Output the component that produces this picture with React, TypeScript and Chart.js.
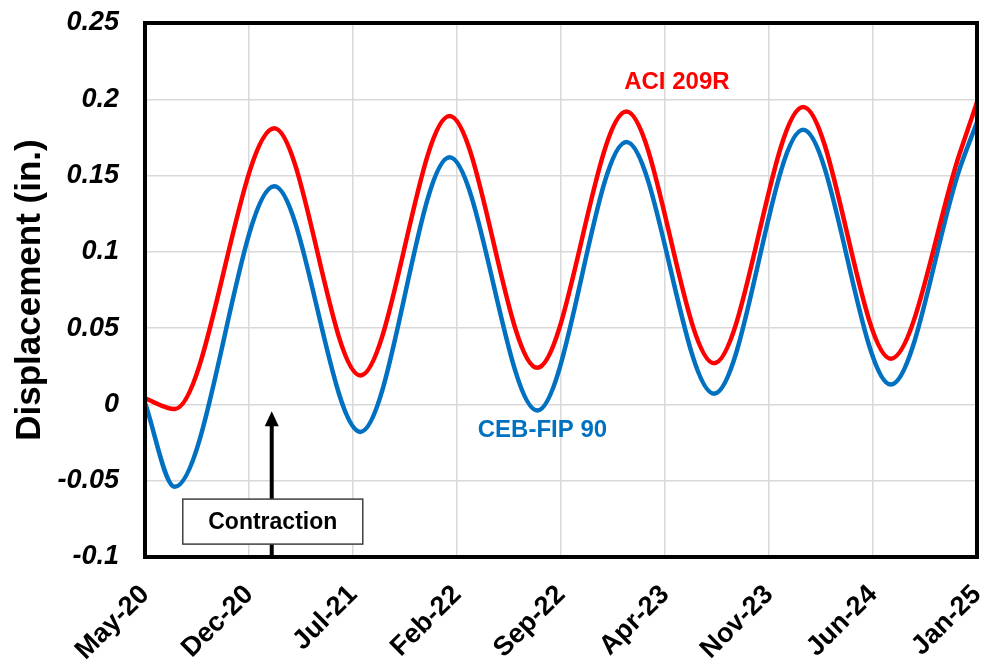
import React, { useEffect, useRef } from "react";
import { Chart, registerables } from "chart.js";

Chart.register(...registerables);

// Months elapsed since May-20
const months = [0, 2.0, 8.7, 14.5, 20.5, 26.4, 32.4, 38.3, 44.3, 50.2, 54.85, 56];
const aci209R = [0.004, -0.003, 0.181, 0.019, 0.189, 0.024, 0.192, 0.027, 0.195, 0.030, 0.165, 0.198];
const cebFip90 = [0.001, -0.054, 0.143, -0.018, 0.162, -0.004, 0.172, 0.007, 0.180, 0.013, 0.155, 0.185];

const xTickLabels = ["May-20", "Dec-20", "Jul-21", "Feb-22", "Sep-22", "Apr-23", "Nov-23", "Jun-24", "Jan-25"];
const yTickLabels = ["-0.1", "-0.05", "0", "0.05", "0.1", "0.15", "0.2", "0.25"];

const FONT = '"Liberation Sans", Arial, Helvetica, sans-serif';

const overlay = {
  id: "overlay",
  afterDraw(chart: any) {
    const { ctx, chartArea: a, scales } = chart;
    const x = scales.x;
    const y = scales.y;
    ctx.save();

    // Series labels
    ctx.textAlign = "center";
    ctx.textBaseline = "middle";
    ctx.font = `bold 24px ${FONT}`;
    ctx.fillStyle = "#FF0000";
    ctx.fillText("ACI 209R", x.getPixelForValue(35.8), y.getPixelForValue(0.2113));
    ctx.fillStyle = "#0070C0";
    ctx.fillText("CEB-FIP 90", x.getPixelForValue(26.75), y.getPixelForValue(-0.0169));

    // Contraction arrow
    const ax = x.getPixelForValue(8.53);
    const tipY = y.getPixelForValue(-0.0044);
    ctx.strokeStyle = "#000";
    ctx.fillStyle = "#000";
    ctx.lineWidth = 4;
    ctx.beginPath();
    ctx.moveTo(ax, a.bottom);
    ctx.lineTo(ax, tipY + 12);
    ctx.stroke();
    ctx.beginPath();
    ctx.moveTo(ax, tipY);
    ctx.lineTo(ax - 7, tipY + 15);
    ctx.lineTo(ax + 7, tipY + 15);
    ctx.closePath();
    ctx.fill();

    // Contraction box
    const bx = x.getPixelForValue(8.6);
    const by = y.getPixelForValue(-0.0768);
    const bw = 180;
    const bh = 45;
    ctx.fillStyle = "#fff";
    ctx.fillRect(bx - bw / 2, by - bh / 2, bw, bh);
    ctx.lineWidth = 1.5;
    ctx.strokeStyle = "#404040";
    ctx.strokeRect(bx - bw / 2, by - bh / 2, bw, bh);
    ctx.fillStyle = "#000";
    ctx.font = `bold 23px ${FONT}`;
    ctx.fillText("Contraction", bx, by + 1);

    // Plot frame
    ctx.strokeStyle = "#000";
    ctx.lineWidth = 4;
    ctx.strokeRect(a.left, a.top, a.right - a.left, a.bottom - a.top);
    ctx.restore();
  },
};

export default function App() {
  const ref = useRef<HTMLCanvasElement>(null);

  useEffect(() => {
    if (!ref.current) return;
    const chart = new Chart(ref.current, {
      type: "line",
      data: {
        datasets: [
          {
            label: "ACI 209R",
            data: months.map((m, i) => ({ x: m, y: aci209R[i] })),
            borderColor: "#FF0000",
            borderWidth: 4.5,
            pointRadius: 0,
            cubicInterpolationMode: "monotone",
            fill: false,
          },
          {
            label: "CEB-FIP 90",
            data: months.map((m, i) => ({ x: m, y: cebFip90[i] })),
            borderColor: "#0070C0",
            borderWidth: 4.5,
            pointRadius: 0,
            cubicInterpolationMode: "monotone",
            fill: false,
          },
        ],
      },
      options: {
        animation: false,
        responsive: false,
        maintainAspectRatio: false,
        layout: { padding: { left: 0, right: 10, top: 23, bottom: 0 } },
        plugins: {
          legend: { display: false },
          tooltip: { enabled: false },
        },
        scales: {
          x: {
            type: "linear",
            min: 0,
            max: 56,
            border: { display: false },
            grid: { color: "#d9d9d9", lineWidth: 1.5, drawTicks: false },
            ticks: {
              stepSize: 7,
              autoSkip: false,
              maxRotation: 45,
              minRotation: 45,
              padding: 22,
              color: "#000",
              font: { family: FONT, size: 27, weight: "bold" },
              callback: (v: any) => {
                const i = Math.round(Number(v) / 7);
                return xTickLabels[i] ?? "";
              },
            },
            afterFit: (s: any) => {
              s.height = 106;
              s.paddingLeft = 0;
              s.paddingRight = 0;
            },
          },
          y: {
            type: "linear",
            min: -0.1,
            max: 0.25,
            border: { display: false },
            grid: { color: "#d9d9d9", lineWidth: 1.5, drawTicks: false },
            ticks: {
              stepSize: 0.05,
              padding: 26,
              color: "#000",
              font: { family: FONT, size: 27, weight: "bold", style: "italic" },
              callback: (_v: any, i: number) => yTickLabels[i] ?? "",
            },
            title: {
              display: true,
              text: "Displacement (in.)",
              color: "#000",
              font: { family: FONT, size: 35, weight: "bold" },
              padding: { top: 9, bottom: 0 },
            },
            afterFit: (s: any) => {
              s.width = 145;
              s.paddingTop = 0;
              s.paddingBottom = 0;
            },
          },
        },
      },
      plugins: [overlay],
    } as any);
    return () => chart.destroy();
  }, []);

  return (
    <div style={{ position: "fixed", left: 0, top: 0, width: 987, height: 663, background: "#fff" }}>
      <canvas ref={ref} width={987} height={663} />
    </div>
  );
}
